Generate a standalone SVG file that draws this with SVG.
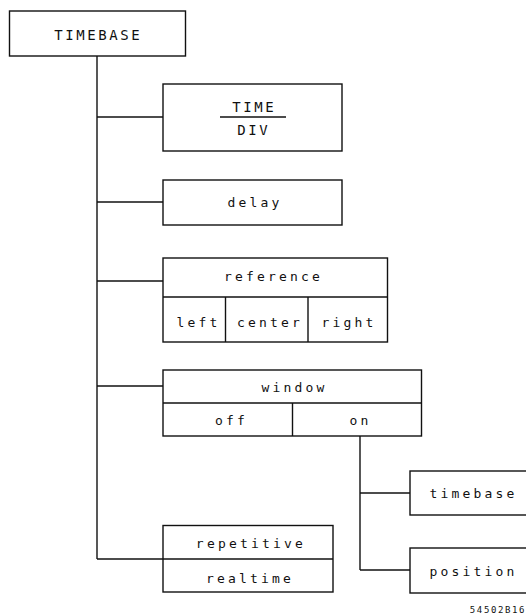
<svg xmlns="http://www.w3.org/2000/svg" width="526" height="615" viewBox="0 0 526 615">
<style>
rect, line { fill: none; stroke: #111; stroke-width: 1.4; }
rect.box { fill: #fff; }
rect.bg { fill: #fff; stroke: none; }
text { font-family: "DejaVu Sans Mono", "Liberation Mono", monospace; fill: #111; text-anchor: middle; }
.lc { font-size: 13px; letter-spacing: 3.2px; }
.uc { font-size: 14px; letter-spacing: 2.6px; }
.id { font-size: 9px; letter-spacing: 1.6px; text-anchor: end; }
</style>
<rect class="bg" x="0" y="0" width="526" height="615"/>
<g id="connectors">
  <line x1="97" y1="56" x2="97" y2="559"/>
  <line x1="97" y1="117" x2="163" y2="117"/>
  <line x1="97" y1="202" x2="163" y2="202"/>
  <line x1="97" y1="281" x2="163" y2="281"/>
  <line x1="97" y1="386" x2="163" y2="386"/>
  <line x1="97" y1="559" x2="163" y2="559"/>
  <line x1="360" y1="436" x2="360" y2="570"/>
  <line x1="360" y1="493" x2="410" y2="493"/>
  <line x1="360" y1="570" x2="410" y2="570"/>
</g>
<g id="timebase-root">
  <rect class="box" x="9.5" y="11" width="176" height="45"/>
  <text class="uc" x="98.3" y="40">TIMEBASE</text>
</g>
<g id="time-div">
  <rect class="box" x="163" y="84" width="179" height="67"/>
  <text class="uc" x="254.3" y="112">TIME</text>
  <line x1="220" y1="117" x2="286" y2="117"/>
  <text class="uc" x="253.8" y="135">DIV</text>
</g>
<g id="delay">
  <rect class="box" x="163" y="180" width="179" height="45"/>
  <text class="lc" x="255" y="207">delay</text>
</g>
<g id="reference">
  <rect class="box" x="163" y="258" width="224.5" height="84"/>
  <line x1="163" y1="297" x2="387.5" y2="297"/>
  <line x1="225.5" y1="297" x2="225.5" y2="342"/>
  <line x1="308" y1="297" x2="308" y2="342"/>
  <text class="lc" x="273.5" y="281">reference</text>
  <text class="lc" x="198.5" y="326.5">left</text>
  <text class="lc" x="270" y="326.5">center</text>
  <text class="lc" x="349" y="326.5">right</text>
</g>
<g id="window">
  <rect class="box" x="163" y="370" width="258.5" height="66"/>
  <line x1="163" y1="403" x2="421.5" y2="403"/>
  <line x1="292.5" y1="403" x2="292.5" y2="436"/>
  <text class="lc" x="294.5" y="392">window</text>
  <text class="lc" x="231.5" y="425">off</text>
  <text class="lc" x="360.5" y="425">on</text>
</g>
<g id="window-timebase">
  <rect class="box" x="410" y="471" width="130" height="44"/>
  <text class="lc" x="473.5" y="498">timebase</text>
</g>
<g id="window-position">
  <rect class="box" x="410" y="548" width="130" height="45"/>
  <text class="lc" x="473.5" y="576">position</text>
</g>
<g id="mode">
  <rect class="box" x="163" y="525.5" width="170" height="66.5"/>
  <line x1="163" y1="559" x2="333" y2="559"/>
  <text class="lc" x="251" y="548">repetitive</text>
  <text class="lc" x="250" y="583">realtime</text>
</g>
<text class="id" x="526" y="613">54502B16</text>
</svg>
